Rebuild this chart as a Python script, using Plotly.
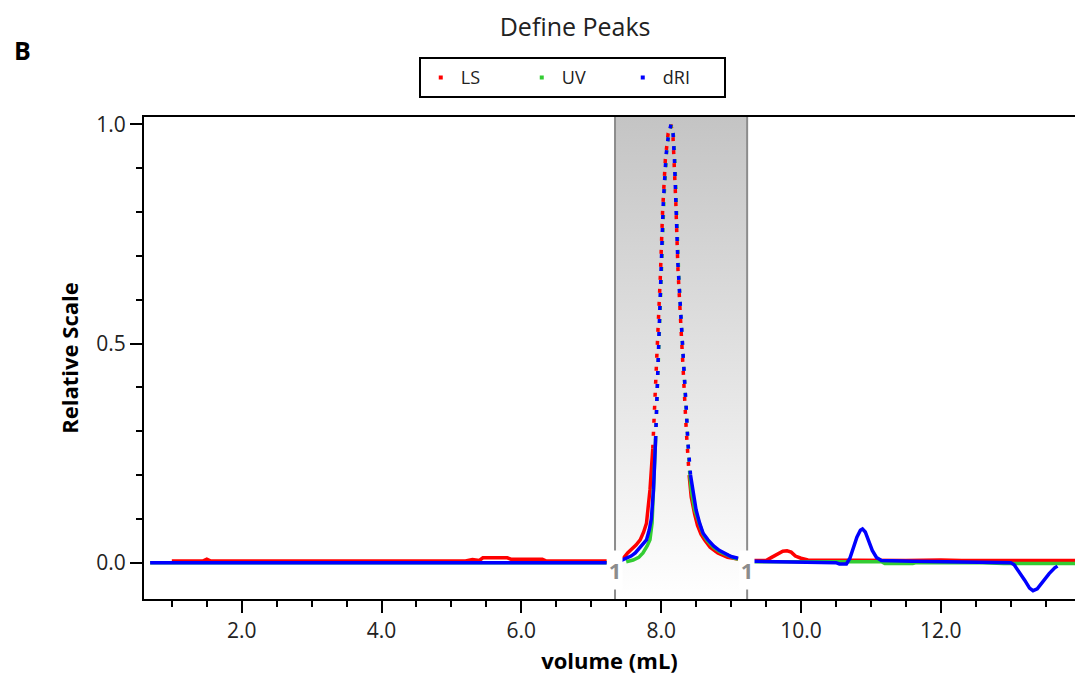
import plotly.graph_objects as go

# ---------------- data ----------------
peak_start = 7.34
peak_end = 9.23

# LS (light scattering)
ls_pre_x = [1.00, 1.45, 1.50, 1.55, 2.30, 2.50, 2.60, 3.70, 4.50, 5.20, 5.30, 5.40, 5.45, 5.80, 5.85, 6.30, 6.35, 7.22]
ls_pre_y = [0.004, 0.004, 0.008, 0.004, 0.004, 0.003, 0.004, 0.004, 0.004, 0.004, 0.007, 0.005, 0.011, 0.011, 0.008, 0.008, 0.004, 0.004]
ls_peak_x = [7.41, 7.47, 7.52, 7.58, 7.64, 7.70, 7.75, 7.79, 7.84, 7.88, 7.92, 7.95, 7.99, 8.02, 8.06, 8.10, 8.14,
             8.17, 8.19, 8.21, 8.24, 8.27, 8.30, 8.33, 8.36, 8.40, 8.43, 8.48, 8.52, 8.57, 8.62, 8.70, 8.81, 8.95, 9.10]
ls_peak_y = [0.005, 0.012, 0.022, 0.030, 0.040, 0.052, 0.070, 0.090, 0.166, 0.26, 0.40, 0.50, 0.66, 0.80, 0.92, 0.98, 1.00,
             0.97, 0.90, 0.82, 0.67, 0.57, 0.49, 0.40, 0.30, 0.20, 0.15, 0.11, 0.085, 0.065, 0.052, 0.035, 0.022, 0.012, 0.008]
ls_post_x = [9.30, 9.50, 9.58, 9.66, 9.74, 9.80, 9.86, 9.92, 10.00, 10.10, 10.80, 11.00, 11.50, 12.00, 12.30, 13.00, 13.92]
ls_post_y = [0.005, 0.005, 0.012, 0.020, 0.026, 0.027, 0.024, 0.015, 0.010, 0.006, 0.005, 0.006, 0.005, 0.006, 0.005, 0.005, 0.005]

# UV
uv_pre_x = [0.69, 7.22]
uv_pre_y = [0.000, 0.000]
uv_peak_x = [7.50, 7.60, 7.68, 7.74, 7.80, 7.84, 7.87, 7.895, 7.92, 7.955, 7.975, 8.01, 8.04, 8.08, 8.11, 8.15,
             8.18, 8.20, 8.22, 8.25, 8.28, 8.31, 8.34, 8.37, 8.41, 8.43, 8.48, 8.54, 8.60, 8.66, 8.75, 8.85, 8.95, 9.05, 9.10]
uv_peak_y = [0.002, 0.006, 0.012, 0.022, 0.038, 0.052, 0.090, 0.166, 0.28, 0.43, 0.50, 0.67, 0.83, 0.94, 0.98, 1.00,
             0.97, 0.90, 0.80, 0.66, 0.57, 0.49, 0.40, 0.30, 0.20, 0.166, 0.12, 0.09, 0.065, 0.050, 0.035, 0.024, 0.016, 0.010, 0.008]
uv_post_x = [9.30, 10.50, 10.65, 11.15, 11.20, 11.60, 11.65, 12.60, 12.90, 13.92]
uv_post_y = [0.002, 0.001, 0.002, 0.002, -0.002, -0.002, 0.000, 0.000, -0.002, -0.002]

# dRI (refractive index)
dri_pre_x = [0.69, 7.22]
dri_pre_y = [0.000, 0.000]
dri_peak_x = [7.43, 7.50, 7.57, 7.63, 7.70, 7.75, 7.79, 7.83, 7.86, 7.89, 7.92, 7.95, 7.97, 8.00, 8.03, 8.07, 8.10, 8.14,
              8.17, 8.19, 8.21, 8.24, 8.28, 8.31, 8.33, 8.36, 8.38, 8.42, 8.45, 8.50, 8.55, 8.60, 8.67, 8.75, 8.83, 8.91, 9.00, 9.10]
dri_peak_y = [0.005, 0.010, 0.015, 0.022, 0.035, 0.045, 0.052, 0.075, 0.10, 0.166, 0.28, 0.42, 0.50, 0.66, 0.82, 0.93, 0.97, 1.00,
              0.98, 0.92, 0.83, 0.68, 0.57, 0.50, 0.43, 0.35, 0.28, 0.20, 0.166, 0.12, 0.09, 0.067, 0.052, 0.038, 0.028, 0.022, 0.014, 0.010]
dri_post_x = [9.30, 10.00, 10.50, 10.55, 10.65, 10.70, 10.75, 10.80, 10.85, 10.88, 10.92, 10.97, 11.02, 11.08, 11.15, 11.60,
              12.50, 13.00, 13.05, 13.12, 13.20, 13.27, 13.32, 13.38, 13.45, 13.55, 13.63, 13.67]
dri_post_y = [0.003, 0.002, 0.000, -0.003, -0.003, 0.010, 0.035, 0.058, 0.074, 0.077, 0.070, 0.050, 0.028, 0.012, 0.005, 0.003,
              0.000, 0.000, -0.005, -0.020, -0.040, -0.058, -0.064, -0.060, -0.045, -0.025, -0.012, -0.008]

series = [
    ("LS", "#ff0000", (ls_pre_x, ls_pre_y), (ls_peak_x, ls_peak_y), (ls_post_x, ls_post_y)),
    ("UV", "#33cc33", (uv_pre_x, uv_pre_y), (uv_peak_x, uv_peak_y), (uv_post_x, uv_post_y)),
    ("dRI", "#0000ff", (dri_pre_x, dri_pre_y), (dri_peak_x, dri_peak_y), (dri_post_x, dri_post_y)),
]

x_range = [0.602, 13.92]
y_range = [-0.083, 1.017]

FONT = "Open Sans, Noto Sans, sans-serif"
LW = 3.5
DOT_LEVEL = 0.17

fig = go.Figure()

# shaded peak region with vertical gradient
fig.add_trace(go.Scatter(
    x=[peak_start, peak_end, peak_end, peak_start, peak_start],
    y=[y_range[0], y_range[0], y_range[1], y_range[1], y_range[0]],
    mode="lines", line=dict(width=0, color="rgba(0,0,0,0)"),
    fill="toself",
    fillgradient=dict(type="vertical", colorscale=[[0, "#ffffff"], [1, "#c4c4c4"]]),
    hoverinfo="skip", showlegend=False,
))

for name, color, pre, peak, post in series:
    # solid baseline before and after the peak
    for xs, ys in (pre, post):
        fig.add_trace(go.Scatter(x=xs, y=ys, mode="lines",
                                 line=dict(color=color, width=LW),
                                 showlegend=False, hoverinfo="skip"))
    # peak: solid tails, dotted steep part
    px, py = peak
    idx = [i for i, v in enumerate(py) if v >= DOT_LEVEL]
    i0, i1 = idx[0], idx[-1]
    fig.add_trace(go.Scatter(x=px[:i0 + 1], y=py[:i0 + 1], mode="lines",
                             line=dict(color=color, width=LW), showlegend=False, hoverinfo="skip"))
    fig.add_trace(go.Scatter(x=px[i0:i1 + 1], y=py[i0:i1 + 1], mode="lines",
                             line=dict(color=color, width=LW, dash="4px,9px"),
                             showlegend=False, hoverinfo="skip"))
    fig.add_trace(go.Scatter(x=px[i1:], y=py[i1:], mode="lines",
                             line=dict(color=color, width=LW), showlegend=False, hoverinfo="skip"))

# legend entries
for name, color, *_ in series:
    fig.add_trace(go.Scatter(x=[None], y=[None], mode="markers", name=name,
                             marker=dict(symbol="square", size=4, color=color)))

# peak boundary lines
for xb in (peak_start, peak_end):
    fig.add_shape(type="line", x0=xb, x1=xb, y0=0, y1=1, xref="x", yref="paper",
                  line=dict(color="#8c8c8c", width=2), layer="above")
    fig.add_annotation(x=xb, y=-0.016, xref="x", yref="y", text="<b>1</b>", showarrow=False,
                       font=dict(family=FONT, size=22, color="#8c8c8c"),
                       bgcolor="#ffffff", width=14, height=38, borderpad=0)

fig.add_annotation(x=-0.131, y=1.138, xref="paper", yref="paper", text="<b>B</b>",
                   showarrow=False, font=dict(family=FONT, size=25, color="#000000"),
                   xanchor="center", yanchor="middle")

fig.update_layout(
    width=1075, height=675,
    margin=dict(l=144, r=0, t=117, b=76),
    paper_bgcolor="#ffffff", plot_bgcolor="#ffffff",
    font=dict(family=FONT, color="#222222"),
    title=dict(text="Define Peaks", x=0.535, xanchor="center", xref="container",
               y=1 - 27 / 675, yanchor="middle", yref="container",
               font=dict(family=FONT, size=25, color="#222222")),
    legend=dict(orientation="h", x=0.46, xanchor="center", y=1.124, yanchor="top",
                bordercolor="#000000", borderwidth=2, bgcolor="#ffffff",
                font=dict(family=FONT, size=18, color="#222222"),
                entrywidth=56, entrywidthmode="pixels"),
    xaxis=dict(range=x_range, showgrid=False, zeroline=False,
               showline=True, linecolor="#000000", linewidth=2, mirror=True,
               ticks="outside", ticklen=12, tickwidth=1.5, tickcolor="#000000",
               dtick=2, tick0=0, tickformat=".1f",
               tickfont=dict(family=FONT, size=21, color="#222222"),
               minor=dict(dtick=0.5, tick0=0, ticks="outside", ticklen=6, tickwidth=1.5, tickcolor="#000000"),
               title=dict(text="<b>volume (mL)</b>", standoff=10,
                          font=dict(family=FONT, size=22, color="#000000"))),
    yaxis=dict(range=y_range, showgrid=False, zeroline=False,
               showline=True, linecolor="#000000", linewidth=2,
               ticks="outside", ticklen=12, tickwidth=1.5, tickcolor="#000000",
               tickvals=[0, 0.5, 1.0], tickformat=".1f",
               tickfont=dict(family=FONT, size=21, color="#222222"),
               minor=dict(dtick=0.1, tick0=0, ticks="outside", ticklen=6, tickwidth=1.5, tickcolor="#000000"),
               title=dict(text="<b>Relative Scale</b>", standoff=12,
                          font=dict(family=FONT, size=22, color="#000000"))),
)

fig.write_html("out.html", config={"displayModeBar": False},
               post_script="document.body.style.margin='0';document.body.style.overflow='hidden';")
